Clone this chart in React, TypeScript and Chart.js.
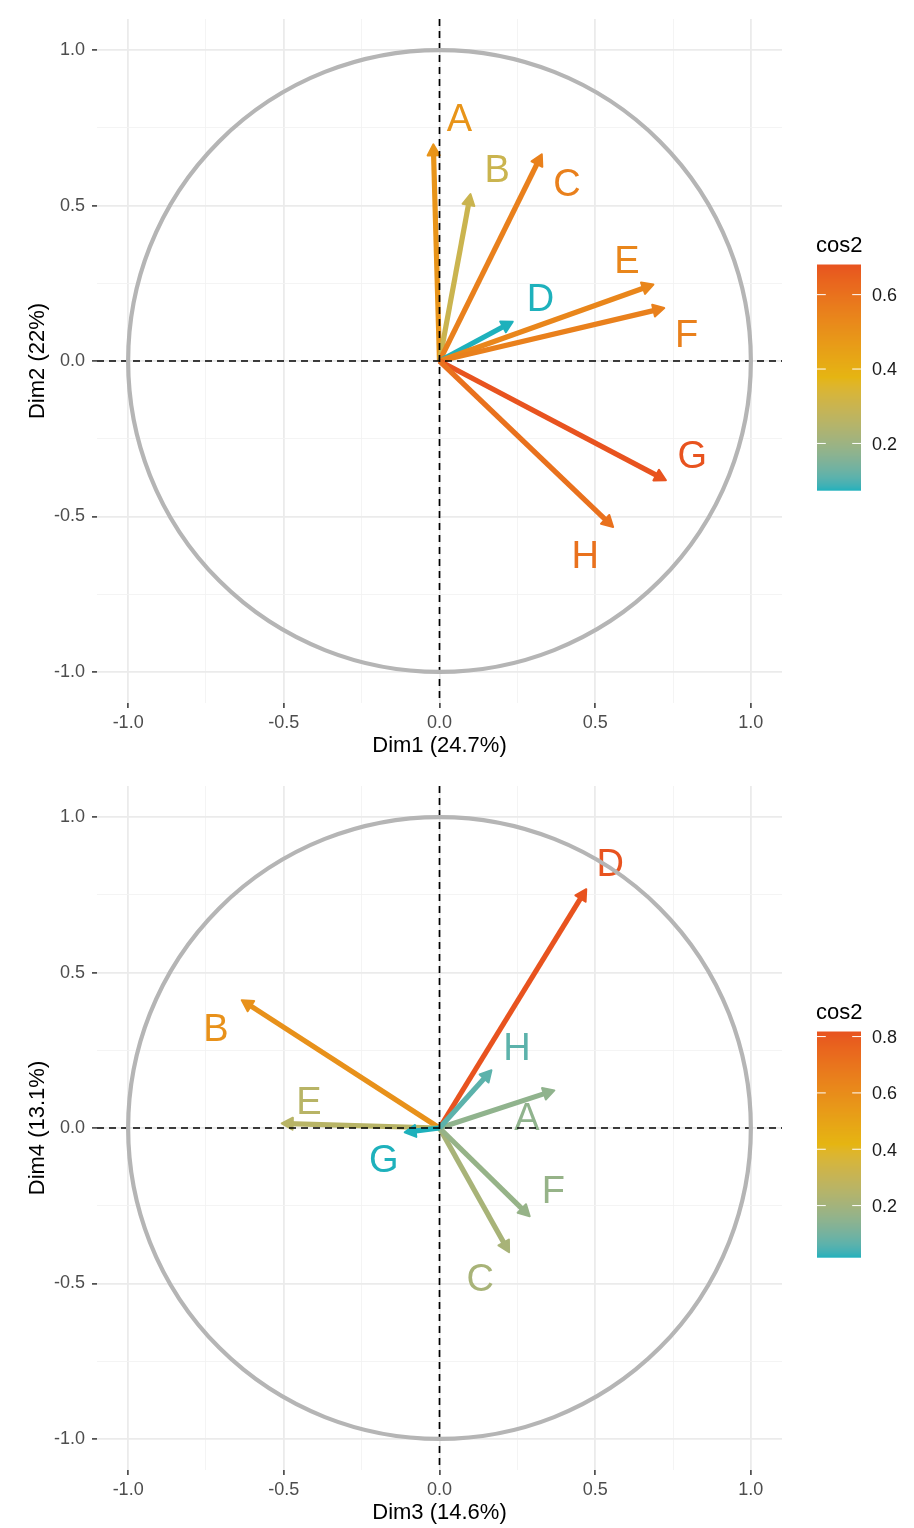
import React, { useEffect, useRef } from 'react';
import { Chart, registerables } from 'chart.js';

Chart.register(...registerables);

// ---------- DATA ----------
const variables = ['A', 'B', 'C', 'D', 'E', 'F', 'G', 'H'];

// Panel 1: Dim1 vs Dim2
const dim1 = [-0.02, 0.1, 0.33, 0.238, 0.69, 0.725, 0.73, 0.56];
const dim2 = [0.7, 0.54, 0.668, 0.128, 0.247, 0.171, -0.385, -0.536];
const cos2Top = [0.49, 0.302, 0.555, 0.073, 0.537, 0.555, 0.681, 0.601];
const labelDim1 = [0.064, 0.185, 0.409, 0.324, 0.602, 0.794, 0.812, 0.468];
const labelDim2 = [0.783, 0.618, 0.575, 0.206, 0.327, 0.089, -0.301, -0.622];

// Panel 2: Dim3 vs Dim4
const dim3 = [0.372, -0.638, 0.225, 0.473, -0.51, 0.292, -0.115, 0.169];
const dim4 = [0.122, 0.413, -0.402, 0.771, 0.015, -0.286, -0.014, 0.188];
const cos2Bottom = [0.153, 0.578, 0.212, 0.818, 0.26, 0.167, 0.015, 0.064];
const labelDim3 = [0.281, -0.718, 0.131, 0.548, -0.419, 0.366, -0.179, 0.249];
const labelDim4 = [0.036, 0.325, -0.482, 0.853, 0.09, -0.199, -0.097, 0.261];

const axisTicks = [-1, -0.75, -0.5, -0.25, 0, 0.25, 0.5, 0.75, 1];
const legendTicksTop = [0.2, 0.4, 0.6];
const legendTicksBottom = [0.2, 0.4, 0.6, 0.8];

const gradientCols = ['#1EB1BC', '#E5B512', '#E8531F'];

// ---------- COLOR (Lab interpolation) ----------
function hexToRgb(h: string) {
  const n = parseInt(h.slice(1), 16);
  return [(n >> 16) & 255, (n >> 8) & 255, n & 255];
}
function toLin(c: number) {
  c /= 255;
  return c <= 0.04045 ? c / 12.92 : Math.pow((c + 0.055) / 1.055, 2.4);
}
function fromLin(c: number) {
  const v = c <= 0.0031308 ? 12.92 * c : 1.055 * Math.pow(c, 1 / 2.4) - 0.055;
  return Math.max(0, Math.min(255, Math.round(v * 255)));
}
const Xn = 0.95047, Yn = 1.0, Zn = 1.08883;
function rgbToLab(rgb: number[]) {
  const [r, g, b] = rgb.map(toLin);
  const X = r * 0.4124 + g * 0.3576 + b * 0.1805;
  const Y = r * 0.2126 + g * 0.7152 + b * 0.0722;
  const Z = r * 0.0193 + g * 0.1192 + b * 0.9505;
  const f = (t: number) => (t > 216 / 24389 ? Math.cbrt(t) : (24389 / 27 * t + 16) / 116);
  const fx = f(X / Xn), fy = f(Y / Yn), fz = f(Z / Zn);
  return [116 * fy - 16, 500 * (fx - fy), 200 * (fy - fz)];
}
function labToRgb(lab: number[]) {
  const [L, a, bb] = lab;
  const fy = (L + 16) / 116, fx = fy + a / 500, fz = fy - bb / 200;
  const finv = (t: number) => (t * t * t > 216 / 24389 ? t * t * t : (116 * t - 16) / (24389 / 27));
  const X = finv(fx) * Xn, Y = finv(fy) * Yn, Z = finv(fz) * Zn;
  const r = X * 3.2406 + Y * -1.5372 + Z * -0.4986;
  const g = X * -0.9689 + Y * 1.8758 + Z * 0.0415;
  const b = X * 0.0557 + Y * -0.204 + Z * 1.057;
  return [fromLin(r), fromLin(g), fromLin(b)];
}
const labStops = gradientCols.map((c) => rgbToLab(hexToRgb(c)));
function colorAt(t: number) {
  t = Math.max(0, Math.min(1, t));
  const seg = t < 0.5 ? 0 : 1;
  const lt = t < 0.5 ? t / 0.5 : (t - 0.5) / 0.5;
  const a = labStops[seg], b = labStops[seg + 1];
  const lab = [0, 1, 2].map((i) => a[i] + (b[i] - a[i]) * lt);
  const [r, g, bl] = labToRgb(lab);
  return `rgb(${r},${g},${bl})`;
}

// ---------- DRAWING HELPERS ----------
const FONT = '"Liberation Sans", Arial, Helvetica, sans-serif';

function drawArrow(ctx: CanvasRenderingContext2D, x0: number, y0: number, x1: number, y1: number, color: string) {
  const ang = Math.atan2(y1 - y0, x1 - x0);
  const len = Math.hypot(x1 - x0, y1 - y0);
  const L = 11, W = 6;
  const shaftEnd = Math.max(0, len - L * 0.6);
  ctx.save();
  ctx.strokeStyle = color;
  ctx.lineWidth = 5.2;
  ctx.lineCap = 'butt';
  ctx.beginPath();
  ctx.moveTo(x0, y0);
  ctx.lineTo(x0 + Math.cos(ang) * shaftEnd, y0 + Math.sin(ang) * shaftEnd);
  ctx.stroke();
  // arrow head: filled triangle with a thin rounded outline for a chunky look
  const tx = x1 - Math.cos(ang) * 1, ty = y1 - Math.sin(ang) * 1;
  const bx = tx - Math.cos(ang) * L, by = ty - Math.sin(ang) * L;
  ctx.fillStyle = color;
  ctx.lineWidth = 2;
  ctx.lineJoin = 'round';
  ctx.beginPath();
  ctx.moveTo(tx, ty);
  ctx.lineTo(bx + Math.sin(ang) * W, by - Math.cos(ang) * W);
  ctx.lineTo(bx - Math.sin(ang) * W, by + Math.cos(ang) * W);
  ctx.closePath();
  ctx.fill();
  ctx.stroke();
  ctx.restore();
}

interface PanelSpec {
  xs: number[];
  ys: number[];
  cos2: number[];
  lx: number[];
  ly: number[];
  xTitle: string;
  yTitle: string;
  legendTicks: number[];
  height: number;
}

const isMajor = (v: number) => Math.abs(Math.round(v * 2) - v * 2) < 1e-9;

function makePlugin(spec: PanelSpec) {
  const lo = Math.min(...spec.cos2), hi = Math.max(...spec.cos2);
  const norm = (v: number) => (v - lo) / (hi - lo);
  return {
    id: 'pcaVars',
    afterDatasetsDraw(chart: any) {
      const ctx: CanvasRenderingContext2D = chart.ctx;
      const xs = chart.scales.x, ys = chart.scales.y;
      const area = chart.chartArea;
      const ox = xs.getPixelForValue(0), oy = ys.getPixelForValue(0);
      // arrows
      variables.forEach((_, i) => {
        drawArrow(ctx, ox, oy, xs.getPixelForValue(spec.xs[i]), ys.getPixelForValue(spec.ys[i]), colorAt(norm(spec.cos2[i])));
      });
      // labels
      ctx.save();
      ctx.font = `38px ${FONT}`;
      ctx.textAlign = 'center';
      ctx.textBaseline = 'alphabetic';
      variables.forEach((name, i) => {
        ctx.fillStyle = colorAt(norm(spec.cos2[i]));
        ctx.fillText(name, xs.getPixelForValue(spec.lx[i]), ys.getPixelForValue(spec.ly[i]) + 38 * 0.358);
      });
      ctx.restore();
      // dashed axes
      ctx.save();
      ctx.strokeStyle = '#000';
      ctx.lineWidth = 1.7;
      ctx.setLineDash([7, 5]);
      ctx.beginPath();
      ctx.moveTo(area.left, oy);
      ctx.lineTo(area.right, oy);
      ctx.moveTo(ox, area.top);
      ctx.lineTo(ox, area.bottom);
      ctx.stroke();
      ctx.restore();
      // correlation circle
      const rx = xs.getPixelForValue(1) - ox;
      const ry = oy - ys.getPixelForValue(1);
      ctx.save();
      ctx.strokeStyle = '#B5B5B5';
      ctx.lineWidth = 4.2;
      ctx.beginPath();
      ctx.ellipse(ox, oy, rx, ry, 0, 0, Math.PI * 2);
      ctx.stroke();
      ctx.restore();
    },
    afterDraw(chart: any) {
      const ctx: CanvasRenderingContext2D = chart.ctx;
      const barL = 817, barR = 861, barT = 264.5, barB = 490.7;
      const vToY = (v: number) => barB - (v - lo) / (hi - lo) * (barB - barT);
      ctx.save();
      for (let y = Math.floor(barT); y < barB; y++) {
        const yy = Math.max(y, barT);
        const t = (barB - (yy + 0.5)) / (barB - barT);
        ctx.fillStyle = colorAt(t);
        ctx.fillRect(barL, yy, barR - barL, Math.min(y + 1, barB) - yy);
      }
      ctx.strokeStyle = '#FFFFFF';
      ctx.lineWidth = 1;
      const tl = (barR - barL) / 5;
      spec.legendTicks.forEach((v) => {
        const y = vToY(v);
        ctx.beginPath();
        ctx.moveTo(barL, y);
        ctx.lineTo(barL + tl, y);
        ctx.moveTo(barR - tl, y);
        ctx.lineTo(barR, y);
        ctx.stroke();
      });
      ctx.fillStyle = '#1A1A1A';
      ctx.font = `18px ${FONT}`;
      ctx.textAlign = 'left';
      ctx.textBaseline = 'alphabetic';
      spec.legendTicks.forEach((v) => {
        ctx.fillText(v.toFixed(1), 872, vToY(v) + 18 * 0.358);
      });
      ctx.fillStyle = '#000';
      ctx.font = `22px ${FONT}`;
      ctx.fillText('cos2', 816, barT - 12.5);
      ctx.restore();
    },
  };
}

function makeConfig(spec: PanelSpec): any {
  const axisBase = (isX: boolean) => ({
    type: 'linear',
    min: -1.1,
    max: 1.1,
    afterBuildTicks: (scale: any) => {
      scale.ticks = axisTicks.map((v) => ({ value: v }));
    },
    afterFit: (scale: any) => {
      if (isX) scale.height = spec.height - 703;
      else scale.width = 97;
    },
    grid: {
      color: (c: any) => (c.tick && isMajor(c.tick.value) ? '#EBEBEB' : '#F3F3F3'),
      lineWidth: (c: any) => (c.tick && isMajor(c.tick.value) ? 1.8 : 0.9),
      tickColor: (c: any) => (c.tick && isMajor(c.tick.value) ? '#333333' : 'rgba(0,0,0,0)'),
      tickLength: 5,
      tickWidth: 1.5,
      drawTicks: true,
    },
    border: { display: false },
    ticks: {
      autoSkip: false,
      maxRotation: 0,
      padding: isX ? 4 : 7,
      color: '#4D4D4D',
      font: { family: FONT, size: 18 },
      callback: (v: any) => (isMajor(Number(v)) ? Number(v).toFixed(1) : ''),
    },
    title: {
      display: true,
      text: isX ? spec.xTitle : spec.yTitle,
      color: '#000',
      font: { family: FONT, size: 22 },
      padding: isX ? { top: 0, bottom: spec.height - 746 - 13.2 } : { top: 24.5, bottom: 0 },
    },
  });
  return {
    type: 'scatter',
    data: {
      datasets: [
        {
          label: 'variables',
          data: variables.map((_, i) => ({ x: spec.xs[i], y: spec.ys[i] })),
          pointRadius: 0,
          pointHoverRadius: 0,
          showLine: false,
        },
      ],
    },
    options: {
      responsive: false,
      animation: false,
      devicePixelRatio: 1,
      layout: { padding: { left: 0, top: 19, right: 132, bottom: 0 } },
      plugins: { legend: { display: false }, tooltip: { enabled: false } },
      events: [],
      scales: { x: axisBase(true), y: axisBase(false) },
    },
    plugins: [makePlugin(spec)],
  };
}

function Panel({ spec, top }: { spec: PanelSpec; top: number }) {
  const ref = useRef<HTMLCanvasElement | null>(null);
  useEffect(() => {
    if (!ref.current) return;
    const chart = new Chart(ref.current, makeConfig(spec));
    return () => chart.destroy();
  }, []);
  return (
    <div style={{ position: 'absolute', left: 0, top, width: 914, height: spec.height }}>
      <canvas ref={ref} width={914} height={spec.height} style={{ display: 'block', width: 914, height: spec.height }} />
    </div>
  );
}

const topSpec: PanelSpec = {
  xs: dim1, ys: dim2, cos2: cos2Top, lx: labelDim1, ly: labelDim2,
  xTitle: 'Dim1 (24.7%)', yTitle: 'Dim2 (22%)', legendTicks: legendTicksTop, height: 767,
};
const bottomSpec: PanelSpec = {
  xs: dim3, ys: dim4, cos2: cos2Bottom, lx: labelDim3, ly: labelDim4,
  xTitle: 'Dim3 (14.6%)', yTitle: 'Dim4 (13.1%)', legendTicks: legendTicksBottom, height: 761,
};

export default function App() {
  return (
    <div style={{ position: 'absolute', left: 0, top: 0, width: 914, height: 1528, overflow: 'hidden', background: '#FFFFFF' }}>
      <Panel spec={topSpec} top={0} />
      <Panel spec={bottomSpec} top={767} />
    </div>
  );
}
